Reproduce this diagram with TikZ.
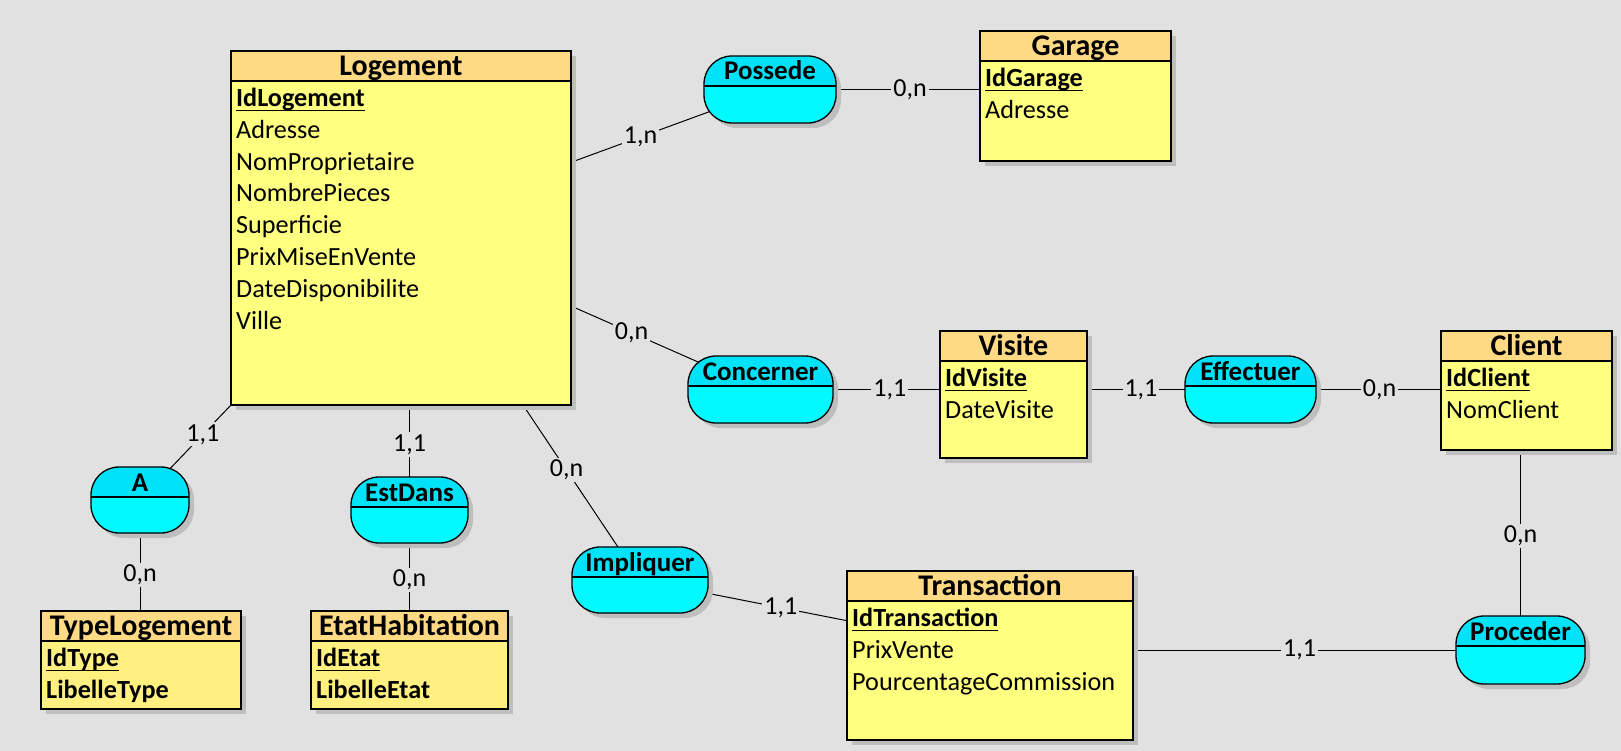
\documentclass[tikz,border=0pt]{standalone}
\usepackage{fontspec}
\setmainfont{Carlito}
\usetikzlibrary{calc}
\pgfdeclarelayer{bglayer}
\pgfdeclarelayer{background}
\pgfsetlayers{bglayer,background,main}
\definecolor{bgc}{RGB}{225,225,225}
\definecolor{shadowc}{RGB}{190,190,190}
\definecolor{headc}{RGB}{255,218,133}
\definecolor{bodyc}{RGB}{255,255,128}
\definecolor{bodyb}{RGB}{255,240,128}
\definecolor{relc}{RGB}{0,250,255}
\definecolor{relhead}{RGB}{0,226,247}
\newcommand\keyattr[1]{\setbox0\hbox{#1}\rlap{\rule[-4.5pt]{\wd0}{1.3pt}}\box0}
\tikzset{
  boxline/.style={draw=black, line width=1.3pt},
  entbody/.style={rectangle, inner sep=0pt, outer sep=0pt},
  relbody/.style={rectangle, rounded corners=28pt, inner sep=0pt, outer sep=0pt, fill=relc},
  titletext/.style={anchor=base, inner sep=0pt, font=\fontsize{30}{32}\selectfont\bfseries},
  reltext/.style={anchor=base, inner sep=0pt, font=\fontsize{27}{30}\selectfont\bfseries},
  attrtext/.style={anchor=base west, inner sep=0pt, font=\fontsize{26.2}{30}\selectfont},
  keytext/.style={anchor=base west, inner sep=0pt, font=\fontsize{26.2}{30}\selectfont\bfseries},
  link/.style={draw=black, line width=1pt},
  card/.style={fill=bgc, inner sep=2pt, font=\fontsize{26}{30}\selectfont},
}
\newcommand\entity[7]{%
  \fill[shadowc] (#2+5,#3+5) rectangle (#4+5,#5+5);
  \node[entbody, fill=#7, minimum width={#4-#2}, minimum height={#5-#3}] (#1) at ({(#2+#4)/2},{(#3+#5)/2}) {};
  \fill[headc] (#2,#3) rectangle (#4,#3+30);
  \draw[boxline] (#2,#3) rectangle (#4,#5) (#2,#3+30) -- (#4,#3+30);
  \node[titletext] (#1-title) at ({(#2+#4)/2},#3+24.5) {#6};
}
\newcommand\relation[6]{%
  \fill[shadowc, rounded corners=28pt] (#2+5,#3+5) rectangle (#4+5,#5+5);
  \node[relbody, minimum width={#4-#2}, minimum height={#5-#3}] (#1) at ({(#2+#4)/2},{(#3+#5)/2}) {};
  \begin{scope}
    \clip[rounded corners=28pt] (#2,#3) rectangle (#4,#5);
    \fill[relhead] (#2,#3) rectangle (#4,#3+30);
  \end{scope}
  \draw[boxline, rounded corners=28pt] (#2,#3) rectangle (#4,#5);
  \draw[boxline] (#2,#3+30) -- (#4,#3+30);
  \node[reltext] (#1-title) at ({(#2+#4)/2},#3+24) {#6};
}
\begin{document}
\begin{tikzpicture}[x=1pt,y=-1pt]
\useasboundingbox (0,0) rectangle (1621,751);
\begin{pgfonlayer}{bglayer}
\fill[bgc] (0,0) rectangle (1621,751);
\end{pgfonlayer}

% Entities
\entity{logement}{231}{51}{571}{405}{Logement}{bodyc}
\node[keytext] (logement-a1) at (236,106.7) {\keyattr{IdLogement}};
\node[attrtext] (logement-a2) at (236,138.5) {Adresse};
\node[attrtext] (logement-a3) at (236,170.2) {NomProprietaire};
\node[attrtext] (logement-a4) at (236,202) {NombrePieces};
\node[attrtext] (logement-a5) at (236,233.7) {Superficie};
\node[attrtext] (logement-a6) at (236,265.5) {PrixMiseEnVente};
\node[attrtext] (logement-a7) at (236,297.2) {DateDisponibilite};
\node[attrtext] (logement-a8) at (236,329) {Ville};

\entity{garage}{980}{31}{1171}{161}{Garage}{bodyc}
\node[keytext] (garage-a1) at (985,86.7) {\keyattr{IdGarage}};
\node[attrtext] (garage-a2) at (985,118.5) {Adresse};

\entity{visite}{940}{331}{1087}{458}{Visite}{bodyc}
\node[keytext] (visite-a1) at (945,386.7) {\keyattr{IdVisite}};
\node[attrtext] (visite-a2) at (945,418.5) {DateVisite};

\entity{client}{1441}{331}{1612}{450}{Client}{bodyc}
\node[keytext] (client-a1) at (1446,386.7) {\keyattr{IdClient}};
\node[attrtext] (client-a2) at (1446,418.5) {NomClient};

\entity{transaction}{847}{571}{1133}{740}{Transaction}{bodyc}
\node[keytext] (transaction-a1) at (852,626.7) {\keyattr{IdTransaction}};
\node[attrtext] (transaction-a2) at (852,658.5) {PrixVente};
\node[attrtext] (transaction-a3) at (852,690.2) {PourcentageCommission};

\entity{typelog}{41}{611}{241}{709}{TypeLogement}{bodyb}
\node[keytext] (typelog-a1) at (46,666.7) {\keyattr{IdType}};
\node[keytext] (typelog-a2) at (46,698.5) {LibelleType};

\entity{etathab}{311}{611}{508}{709}{EtatHabitation}{bodyb}
\node[keytext] (etathab-a1) at (316,666.7) {\keyattr{IdEtat}};
\node[keytext] (etathab-a2) at (316,698.5) {LibelleEtat};

% Relations
\relation{possede}{704}{56}{836}{123}{Possede}
\relation{concerner}{688}{356}{833}{423}{Concerner}
\relation{effectuer}{1185}{356}{1316}{423}{Effectuer}
\relation{impliquer}{572}{547}{708}{613}{Impliquer}
\relation{proceder}{1456}{616}{1585}{684}{Proceder}
\relation{a}{91}{467}{189}{533}{A}
\relation{estdans}{351}{477}{468}{543}{EstDans}

% Connectors
\begin{pgfonlayer}{background}
\draw[link] ($(logement.north east)+(0,111.3)$) -- node[card,pos=0.35] (c1) {1,n} (possede.center);
\draw[link] (possede.center) -- node[card,pos=0.667] (c2) {0,n} (possede.center -| garage.west);
\draw[link] ($(logement.north east)+(0,255)$) -- node[card,pos=0.32] (c3) {0,n} (concerner.center);
\draw[link] (concerner.center) -- node[card,pos=0.72] (c4) {1,1} (concerner.center -| visite.west);
\draw[link] (visite.east |- effectuer.center) -- node[card,pos=0.33] (c5) {1,1} (effectuer.center);
\draw[link] (effectuer.center) -- node[card,pos=0.677] (c6) {0,n} (effectuer.center -| client.west);
\draw[link] (logement.south west) -- node[card,pos=0.31] (c7) {1,1} (a.center);
\draw[link] (estdans.center |- logement.south) -- node[card,pos=0.376] (c8) {1,1} (estdans.center);
\draw[link] (a.center) -- node[card,pos=0.676] (c9) {0,n} (a.center |- typelog.north);
\draw[link] (estdans.center) -- node[card,pos=0.69] (c10) {0,n} (estdans.center |- etathab.north);
\draw[link] ($(logement.south west)+(292,0)$) -- node[card,pos=0.372] (c11) {0,n} (impliquer.center);
\draw[link] (impliquer.center) -- node[card,pos=0.68] (c12) {1,1} ($(transaction.north west)+(0,49.7)$);
\draw[link] (transaction.east |- proceder.center) -- node[card,pos=0.43] (c13) {1,1} (proceder.center);
\draw[link] (proceder.center |- client.south) -- node[card,pos=0.43] (c14) {0,n} (proceder.center);
\end{pgfonlayer}
\end{tikzpicture}
\end{document}
